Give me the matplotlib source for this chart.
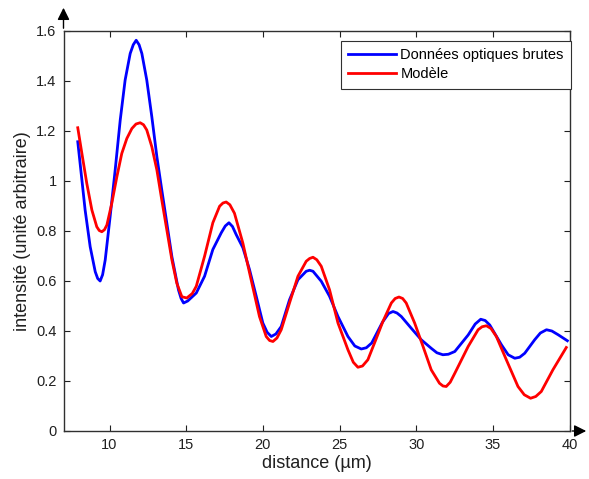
import matplotlib
matplotlib.use("Agg")
import matplotlib.pyplot as plt
from matplotlib.ticker import FuncFormatter

plt.rcParams['font.family'] = ['Liberation Sans', 'DejaVu Sans']

# ---- data ----
blue_x = [7.93, 8.20, 8.41, 8.74, 9.07, 9.23, 9.39, 9.55, 9.72, 10.04, 10.37, 10.70, 11.02, 11.35,
          11.55, 11.74, 11.93, 12.11, 12.43, 12.76, 13.09, 13.41, 13.74, 14.07, 14.50, 14.67, 14.83,
          15.10, 15.66, 16.20, 16.74, 17.29, 17.55, 17.79, 18.02, 18.26, 18.70, 19.13, 19.57,
          20.00, 20.28, 20.55, 20.85, 21.20, 21.74, 22.29, 22.83, 23.05, 23.27, 23.81, 24.35,
          24.90, 25.55, 26.00, 26.42, 26.75, 27.10, 27.80, 28.20, 28.49, 28.75, 29.03, 29.68,
          30.33, 30.98, 31.35, 31.74, 32.10, 32.52, 33.39, 33.85, 34.21, 34.50, 34.80, 35.56,
          36.00, 36.43, 36.75, 37.08, 37.73, 38.10, 38.50, 38.85, 39.26, 39.86]
blue_y = [1.157, 1.004, 0.884, 0.737, 0.637, 0.610, 0.600, 0.625, 0.684, 0.857, 1.044, 1.244, 1.404, 1.510,
          1.545, 1.563, 1.545, 1.510, 1.404, 1.257, 1.097, 0.964, 0.831, 0.697, 0.564, 0.530, 0.512,
          0.520, 0.552, 0.619, 0.726, 0.793, 0.820, 0.833, 0.818, 0.786, 0.733, 0.646, 0.539,
          0.432, 0.395, 0.378, 0.388, 0.418, 0.525, 0.605, 0.639, 0.643, 0.639, 0.599, 0.539,
          0.458, 0.378, 0.340, 0.328, 0.333, 0.352, 0.435, 0.470, 0.478, 0.472, 0.458, 0.411,
          0.365, 0.331, 0.313, 0.305, 0.307, 0.318, 0.384, 0.428, 0.447, 0.442, 0.424, 0.345,
          0.305, 0.291, 0.295, 0.311, 0.365, 0.392, 0.405, 0.400, 0.385, 0.361]

red_x = [7.93, 8.20, 8.52, 8.85, 9.17, 9.33, 9.50, 9.67, 9.83, 10.15, 10.48, 10.80, 11.13, 11.46,
         11.73, 12.00, 12.22, 12.43, 12.76, 13.09, 13.41, 13.74, 14.07, 14.39, 14.72, 15.04, 15.40,
         15.66, 16.20, 16.74, 17.18, 17.40, 17.61, 17.85, 18.15, 18.70, 19.24, 19.78, 20.22, 20.44,
         20.66, 20.92, 21.20, 21.74, 22.29, 22.83, 23.05, 23.27, 23.52, 23.81, 24.35, 24.90, 25.55,
         25.90, 26.20, 26.50, 26.85, 27.40, 27.83, 28.38, 28.63, 28.88, 29.12, 29.35, 29.90, 30.45,
         30.98, 31.52, 31.75, 31.96, 32.22, 32.52, 33.39, 34.04, 34.30, 34.58, 34.88, 35.23, 35.88,
         36.64, 37.05, 37.46, 37.80, 38.16, 38.92, 39.79]
red_y = [1.213, 1.110, 0.990, 0.884, 0.817, 0.802, 0.797, 0.805, 0.824, 0.911, 1.017, 1.110, 1.170, 1.210,
         1.228, 1.233, 1.225, 1.204, 1.137, 1.044, 0.924, 0.804, 0.684, 0.591, 0.537, 0.532, 0.550,
         0.579, 0.699, 0.833, 0.899, 0.912, 0.916, 0.905, 0.871, 0.751, 0.604, 0.458, 0.378, 0.362,
         0.358, 0.372, 0.405, 0.512, 0.619, 0.679, 0.690, 0.695, 0.685, 0.659, 0.565, 0.432, 0.325,
         0.275, 0.255, 0.260, 0.285, 0.370, 0.438, 0.512, 0.530, 0.536, 0.530, 0.512, 0.432, 0.338,
         0.245, 0.191, 0.180, 0.178, 0.195, 0.231, 0.338, 0.405, 0.417, 0.421, 0.410, 0.378, 0.285,
         0.178, 0.145, 0.131, 0.138, 0.158, 0.245, 0.334]

x_ticks = [10, 15, 20, 25, 30, 35, 40]
y_ticks = [0, 0.2, 0.4, 0.6, 0.8, 1.0, 1.2, 1.4, 1.6]
labels = ["Données optiques brutes", "Modèle"]
xlabel = "distance (µm)"
ylabel = "intensité (unité arbitraire)"

W, H = 589, 479
fig = plt.figure(figsize=(W / 100, H / 100), dpi=100)
fig.patch.set_facecolor('white')
ax = fig.add_axes([63.5 / W, (H - 431) / H, (569.5 - 63.5) / W, (431 - 31) / H])

ax.plot(blue_x, blue_y, color=(0, 0, 1), lw=2.0, label=labels[0], solid_joinstyle='round')
ax.plot(red_x, red_y, color=(1, 0, 0), lw=2.0, label=labels[1], solid_joinstyle='round')

ax.set_xlim(7, 40)
ax.set_ylim(0, 1.6)
ax.set_xticks(x_ticks)
ax.set_yticks(y_ticks)
ax.yaxis.set_major_formatter(FuncFormatter(lambda v, p: f"{v:g}"))
ax.tick_params(direction='in', length=4, width=0.8, top=True, right=True,
               labelsize=10.5, colors='#202020', pad=5)
for s in ax.spines.values():
    s.set_color('#303030')
    s.set_linewidth(1.0)

ax.set_xlabel(xlabel, fontsize=13, color='#202020', labelpad=2)
ax.set_ylabel(ylabel, fontsize=13, color='#202020', labelpad=4)

leg = ax.legend(loc='upper right', bbox_to_anchor=(571 / W, (H - 41) / H),
                bbox_transform=fig.transFigure, fontsize=10.5, frameon=True,
                fancybox=False, framealpha=1, edgecolor='#303030',
                handlelength=3.3, handletextpad=0.3, borderpad=0.5,
                labelspacing=0.35, borderaxespad=0)
leg.get_frame().set_linewidth(0.8)

# axis arrows (MATLAB-export style)
ax.annotate('', xy=(63.5, H - 5), xytext=(63.5, H - 31), xycoords='figure pixels',
            textcoords='figure pixels', annotation_clip=False,
            arrowprops=dict(arrowstyle='-|>', color='black', lw=1.0, mutation_scale=18))
ax.annotate('', xy=(589, H - 431), xytext=(569.5, H - 431), xycoords='figure pixels',
            textcoords='figure pixels', annotation_clip=False,
            arrowprops=dict(arrowstyle='-|>', color='black', lw=1.0, mutation_scale=18))

fig.savefig('out.png', dpi=100)
